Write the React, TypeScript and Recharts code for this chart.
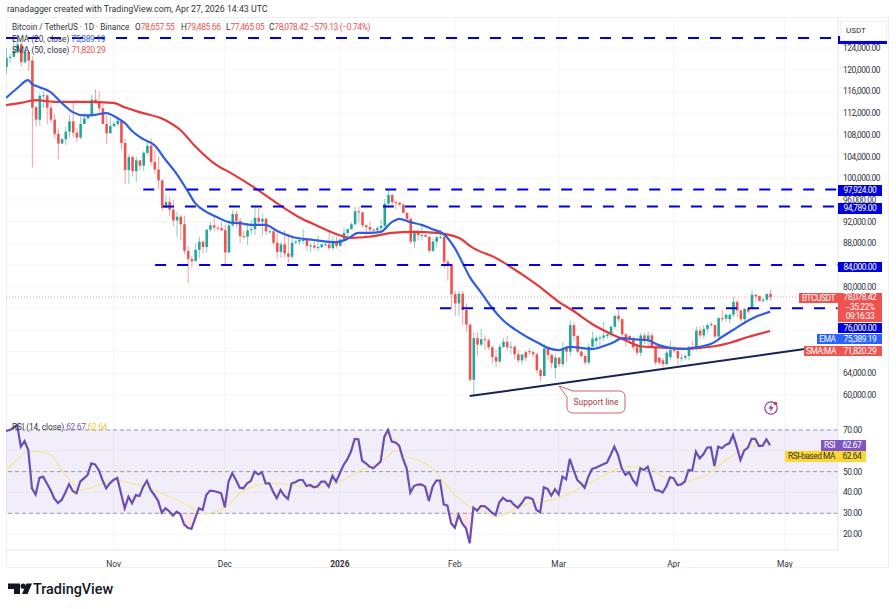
import {
  Area,
  Bar,
  CartesianGrid,
  ComposedChart,
  Line,
  ReferenceArea,
  ReferenceLine,
  XAxis,
  YAxis,
} from "recharts";

// prices in thousands of USDT, one entry per day, Oct 3 2025 to Apr 27 2026
const FIRST_DAY = -29; // day 0 is Nov 1

const opens = [
  120.5,122.2,122.4,123.5,124.7,121.4,123.3,121.7,113.1,110.8,115.2,115.3,113,110.8,108.2,106.4,107.2,108.6,110.5,108.4,107.5,110,111,111.6,114.5,114.1,112.9,110,108.3,
  109.6,110,110.6,106.5,101.5,103.9,101.3,103.3,102.3,104.7,106,103,101.6,99.6,94.5,95.6,94.2,92.2,92.9,91.5,86.6,85.1,84.7,86.8,88.3,87.3,90.5,91.3,90.9,90.8,
  90.4,86.3,91.3,93.4,92.1,89.3,89.2,90.4,90.6,92.7,92,92.5,90.2,90.2,88.1,86.4,87.8,86.1,85.5,88.1,88.3,88.6,88.6,87.5,87.6,87.2,87.3,87.8,87.8,87.1,88.4,
  87.5,88.7,89.9,90.6,91.5,93.9,93.7,91.3,91,90.5,90.4,90.8,91.2,95.3,96.9,95.6,95.5,95.1,93.6,92.5,88.3,90,89.5,89.5,89.2,86.6,88.3,89.1,89.2,84.6,84.1,
  78.6,76.9,78.7,75.7,73,62.8,70.5,69.3,70.3,70.1,68.8,67,66.2,68.9,69.8,68.8,68.9,67.5,66.4,67.9,68.1,67.9,67.5,64.6,63.5,68.6,67.4,65,
  66.9,65.7,68.6,68,72.9,70.9,68,67.2,66,68.9,70,70.5,70.6,70.9,71.2,72.6,74.6,74,71.2,70.9,70.2,68.8,67.8,71,70,71,68.9,66.9,66.4,65.7,67,
  68.3,68.1,66.8,66.9,67.2,68.9,68.6,71.9,71,72.2,72.9,72.9,70.8,74.2,74.1,74,74.8,77.2,75.6,74,76,75.9,78.5,78.3,77.4,77.6,78.66,
];
const highs = [
  123.9,122.9,125.7,126.2,125.1,124.2,123.7,122.5,113.4,115.8,116,115.5,113.6,111.9,109.2,107.5,109.5,111.7,114,109.2,111.3,112,111.9,115.4,116.4,116,113.6,111.6,111.2,
  110.5,111.2,110.7,107.3,104.5,104.2,104,103.4,105,106.7,107.4,105.3,104,99.8,96.8,96.6,96,93.8,93.2,93,87.5,85.6,88,89.2,88.5,90.6,91.9,93,91.2,92,
  91.4,92.3,94.1,94,92.7,90.3,91.8,92.3,94.6,94.5,93.5,92.8,90.6,90.5,90,88.2,90.4,89.5,89.4,88.6,89.1,90.6,88.9,88,88.5,89.5,87.9,88.2,90.4,89.3,89.2,
  88.8,90.9,90.7,91.8,94.7,94.8,93.7,91.5,91.9,90.8,91.2,92.4,96.2,97.9,97.2,95.8,95.6,95.5,93.6,92.8,90.4,90.5,91.2,89.8,89.2,88.9,89.4,90.5,89.2,85,84.2,
  79.2,79.3,79.2,76.9,73.2,71.5,71.6,72.2,71,70.5,69.2,68.3,69.4,70.5,70.9,69.9,69.2,68.3,67.3,68.2,68.6,68.2,67.7,65,69.5,68.9,67.7,67.4,
  67,69.8,69,73.8,73.4,71.1,68.6,67.5,69.5,71.7,71,71,73.5,71.3,72.9,74.8,75.7,74.1,71.4,71,70.8,69.5,71.5,71.4,71.7,71.4,69,67,66.8,68.3,70,
  69.2,68.8,67.4,67.4,69,70,72.6,72.6,72.9,73.2,73.5,73,74.4,75.7,75.1,75,78.1,77.4,75.7,76,76,79.4,78.6,78.3,77.9,78.7,79.49,
];
const lows = [
  119.3,121.3,122.2,123.1,120.6,121.1,119.8,102,109.6,109.6,113,110,110.2,107.5,103.5,106.3,106.1,107.5,107.5,106.7,107.2,109.9,110.9,111.3,113.8,112,109.9,106.3,108.2,
  109.5,109.7,105.3,98.9,98.9,100.3,99.3,101.4,101.3,104.3,102.5,100.8,98,94,94.5,93,91.2,89.2,88.6,86,80.6,83.5,84.7,85.3,86.1,86.3,90.1,90.2,90.2,90.3,
  83.8,86.2,91,90.9,88.1,88.9,87.7,89.6,89.5,91.6,89.3,89.5,89.8,87.6,85.2,85.3,85.3,84.4,85.1,87.9,87.6,87.9,86.6,86.4,86.9,86.6,87.1,87.4,86.7,86.8,87,
  87.4,88.3,89.3,90.5,91.4,91.8,90.9,89.2,89.6,90.3,90.2,90,90.9,94.5,95,94.2,94.9,93.6,91.9,87.9,87.2,88.5,88.5,89.1,86.2,86.4,87.2,88.8,83.3,81.1,75.8,
  74.6,74.5,72.9,71.7,62.4,60,67.3,68.9,68.3,68.3,65.8,65.1,65.8,68.7,68.1,67.5,66.6,65.9,65.6,66.2,67.4,67,64,62.5,63.5,66.5,64.9,63,
  65.2,65.2,66.1,67.1,70,67.7,67,65.6,65.6,68.9,68.9,69.2,70,70.4,70.5,72.2,73.5,70.6,68.9,69.5,68.2,67.3,67.2,69.4,68.6,68.6,65.5,65.5,65,65.5,66.4,
  67.8,65.5,66.2,66.4,66.4,68.2,68.2,70.4,70.4,71.4,72.5,70.4,70.4,73.5,73.5,73.2,74.4,74.4,73.5,73.5,75,75.9,77.2,77.2,77,77.2,77.47,
];
const closes = [
  122.2,122.4,123.5,124.7,121.4,123.3,121.7,113,110.8,115.2,115.3,113,110.8,108.2,106.4,107.2,108.6,110.5,108.4,107.5,110,111,111.6,114.5,114.1,112.9,110,108.3,109.6,
  110,110.6,106.5,101.5,103.9,101.3,103.3,102.3,104.7,106,103,101.6,99.6,94.5,95.6,94.2,92.2,92.9,91.5,86.6,85.1,84.7,86.8,88.3,87.3,90.5,91.3,90.9,90.8,90.4,
  86.3,91.3,93.4,92.1,89.3,89.2,90.4,90.6,92.7,92,92.5,90.2,90.2,88.1,86.4,87.8,86.1,85.5,88.1,88.3,88.6,88.6,87.5,87.6,87.2,87.3,87.8,87.8,87.1,88.4,87.5,
  88.7,89.9,90.6,91.5,93.9,93.7,91.3,91,90.5,90.4,90.8,91.2,95.3,96.9,95.6,95.5,95.1,93.6,92.5,88.3,90,89.5,89.5,89.2,86.6,88.3,89.1,89.2,84.6,84.1,78.6,
  76.9,78.7,75.7,73,62.8,70.5,69.3,70.3,70.1,68.8,67,66.2,68.9,69.8,68.8,68.9,67.5,66.4,67.5,66.9,67.9,67.5,64.6,63.5,68.6,67.4,65.9,66.9,
  65.7,68.6,68,72.9,70.9,68,67.2,66,68.9,70.4,70.5,70.6,71,71.2,72.6,74.6,74,71.2,69.9,70.2,68.8,67.8,71,70,71,68.9,66,66,65.7,67.8,68.3,
  68.1,66.8,66.9,67.2,68.9,68.6,71.9,71,72.2,72.9,73.1,70.8,74.2,74.1,74.8,74.8,77.2,75.6,74,75.9,75.4,78.5,78.2,77.4,77.6,78.66,78.08,
];
const rsiValues = [
  69.5,70,71,72.4,62,64.7,60.4,42,39,47,47.6,44.4,41.2,37.2,35,36.4,40,44,40.7,39.6,45.2,46.8,48.4,54,53.5,50.8,46,42,44.4,
  46,47,39.6,32.4,38,34.8,38.8,38.3,42.8,45.7,41.2,38.8,36,30.3,32.4,31,28.9,30.8,29.7,24.7,23.1,22.5,27.6,32.4,31.6,38.8,40.9,40.7,40.2,39.6,
  32.9,45.2,49.2,46,42.3,42,44.4,45.5,50,48.7,49.7,44.4,44.4,40.4,37.2,41.2,38.5,36.9,44.4,44.9,46,46,43.1,43.6,42.5,43,45.2,45.2,42.8,48,45.2,
  49.2,53.2,55.9,59.6,65.7,65.5,55.3,54,52.4,51.6,53.2,54.8,66.8,70,64.4,64,62.5,56.4,51.6,39.9,43.1,43.8,43.9,42.8,35.9,42.8,45.7,45.7,34.3,33.7,25.2,
  23.1,29.2,25.2,22.8,15.6,32.7,31.3,33.5,33.5,32,30.3,29.2,35.3,37.5,36,36,34,32.7,34.8,37.5,37.5,36.7,31.6,30.5,42.5,41.7,38.5,41.5,
  39.1,47.6,46.3,56.1,50.8,46,44.4,42.3,47.6,51.3,51.9,52.7,53.5,54.3,58,62,58,51.6,48.4,49.7,46,43.6,51.6,50.8,52.4,46.8,41.2,40.9,40,42.8,47.3,
  46.8,43.6,43.9,45.2,50.8,50.5,59.6,56.4,58.3,61.5,61.7,52.7,62,61.2,62.8,63.6,67.6,62,55.6,60.1,61.5,65.7,65.7,62.3,62.5,65.5,62.67,
];

// the smooth averages, read at intervals
const emaDays = [-29,-26,-23,-22,-20,-17,-14,-11,-8,-5,-2,1,3,5,8,11,14,17,20,22,25,28,31,34,37,41,44,48,54,60,63,66,69,72,75,77,80,83,86,89,92,94,96,99,102,105,108,111,114,117,120,123,126,129,132,135,137,140,144,147,150,154,158,161,164,167,170,173,175,177];
const emaValues = [114.8,116.6,118.1,117.4,116.8,115.9,113.9,112.2,111.6,111.7,112,111.1,110.2,108.7,107.2,106.1,103.4,100.8,97.6,95.4,93.8,92.8,91.9,91.7,91.4,91.4,90.3,89.2,88.6,88.2,88.8,89.9,89.9,90.1,91.9,92.5,91.9,91.4,90.6,89.7,87.1,84.5,81.8,79,76.1,73.8,72.2,70.9,69.8,68.7,68.3,68.9,68.7,68.5,69,69.8,70.5,70.3,70.1,69.2,68.7,68.5,68.9,69.4,70.7,72,73.3,74.4,74.9,75.39];
const smaDays = [-29,-25,-21,-16,-8,0,3,7,14,18,22,27,32,39,44,50,55,60,64,69,75,81,87,93,97,103,110,115,120,124,129,134,138,142,147,154,158,162,166,171,177];
const smaValues = [113.5,113.9,114.4,114.1,114.1,113.9,113.1,112.2,110.7,108.9,105.9,102.8,100.8,97.8,95.4,92.8,91.2,89.7,89,89.2,89.9,90.1,89.9,89,87.1,85.3,82.3,79.9,77.2,75.5,73.1,71.3,70.1,69,68.8,68.5,68.7,69,69.6,70.7,71.82];
const rsiMaDays = [-29,-26,-23,-20,-17,-14,-11,-9,-4,0,5,9,14,18,22,24,30,34,39,43,49,55,61,66,70,74,76,79,83,86,89,92,96,100,103,108,112,117,121,126,130,135,139,144,148,153,159,164,169,173,177];
const rsiMaValues = [50.8,55.6,59.6,59.6,58,50.8,44.4,41.2,43.6,46,44.4,42.8,38.8,35.6,31.6,29.7,32.7,39.6,43.6,44.4,43.3,42.3,45.2,50,53.2,57.2,60.4,57.2,54.8,51.6,45.2,38.8,33.2,30.8,28.4,31.6,34.8,35.9,38,42.3,46,50.8,52.4,52.4,47.6,45.2,47.6,54,60,62.3,62.64];

// grid runs every 4k, labels skip the ones hidden behind the axis tags
const priceGrid = [60,64,68,72,76,80,84,88,92,96,100,104,108,112,116,120,124];
const priceTicks = [60,64,80,88,92,96,100,104,108,112,116,120,124];
const rsiGrid = [20,30,40,50,60,70];
const rsiTicks = [20,30,40,50,70];
const monthDays = [0,30,61,92,120,151,181];
const monthLabels = ["Nov","Dec","2026","Feb","Mar","Apr","May"];

// horizontal levels drawn on the chart, and the day each one starts
const levelPrices = [125.87,97.924,94.789,84,76];
const levelStarts = [-29,8,13.3,11.2,88];
const supportDays = [96,186.3];
const supportPrices = [59.8,68.5];
const lastPrice = 78.078;

const UP = "#26a69a";
const DOWN = "#ef5350";
const BLUE = "#0000dd";
const FONT = "Roboto, sans-serif";
const TEXT = "#30333d";
const AXIS_TICK = { fontSize: 8.4, fill: TEXT, fontFamily: FONT, letterSpacing: -0.45 };
const X_DOMAIN: [number, number] = [-29, 195.3];

const emaByDay = new Map(emaDays.map((d, i) => [d, emaValues[i]]));
const smaByDay = new Map(smaDays.map((d, i) => [d, smaValues[i]]));
const rsiMaByDay = new Map(rsiMaDays.map((d, i) => [d, rsiMaValues[i]]));

const rows = opens.map((open, i) => {
  const day = FIRST_DAY + i;
  return {
    day,
    open: open * 1000,
    high: highs[i] * 1000,
    low: lows[i] * 1000,
    close: closes[i] * 1000,
    ema: emaByDay.has(day) ? emaByDay.get(day)! * 1000 : null,
    sma: smaByDay.has(day) ? smaByDay.get(day)! * 1000 : null,
    rsi: rsiValues[i],
    rsiMa: rsiMaByDay.has(day) ? rsiMaByDay.get(day)! : null,
  };
});

function Candle(props: any) {
  const { x, y, width, height, payload } = props;
  const { open, high, low, close } = payload;
  const perUnit = height / (high - low || 1);
  const bodyTop = y + (high - Math.max(open, close)) * perUnit;
  const bodyH = Math.max(Math.abs(open - close) * perUnit, 1);
  const color = close >= open ? UP : DOWN;
  const cx = x + width / 2;
  return (
    <g>
      <line x1={cx} x2={cx} y1={y} y2={y + height} stroke={color} strokeOpacity={0.55} strokeWidth={1} />
      <rect x={x} y={bodyTop} width={width} height={bodyH} fill={color} />
    </g>
  );
}

function MonthTick(props: any) {
  const { x, y, payload } = props;
  const label = monthLabels[monthDays.indexOf(payload.value)];
  return (
    <text x={x} y={y + 9} textAnchor="middle" fontFamily={FONT} fontSize={8.4} fill={TEXT} fontWeight={label === "2026" ? 700 : 400}>
      {label}
    </text>
  );
}

function Tag(props: { left: number; top: number; width: number; height: number; bg: string; color?: string; children: any }) {
  const { left, top, width, height, bg, color = "#fff", children } = props;
  return (
    <div
      style={{
        position: "absolute", left, top, width, height, background: bg, color, fontSize: 8.4, letterSpacing: -0.45,
        lineHeight: `${height}px`, textAlign: "center", whiteSpace: "nowrap", overflow: "hidden",
      }}
    >
      {children}
    </div>
  );
}

function Label(props: { left: number; top: number; children: any; size?: number; color?: string }) {
  const { left, top, children, size = 8.2, color = TEXT } = props;
  return (
    <div style={{ position: "absolute", left, top, fontSize: size, color, lineHeight: "11px", whiteSpace: "pre" }}>
      {children}
    </div>
  );
}

function Num(props: { color: string; children: any }) {
  return <span style={{ color: props.color, fontSize: 8.5, letterSpacing: -0.4 }}>{props.children}</span>;
}

export default function App() {
  return (
    <div style={{ position: "absolute", left: 0, top: 0, width: 896, height: 609, background: "#fff", fontFamily: FONT, overflow: "hidden" }}>
      {/* pane frame */}
      <div style={{ position: "absolute", left: 6, top: 17, width: 883, height: 551, border: "1px solid #eff0f3", boxSizing: "border-box" }} />

      <div style={{ position: "absolute", left: 0, top: 0 }}>
        <ComposedChart width={896} height={416} data={rows} margin={{ top: 18, right: 7, bottom: 0, left: 6 }}>
          <CartesianGrid stroke="#f4f5f7" verticalValues={monthDays} horizontalValues={priceGrid.map((t) => t * 1000)} />
          <XAxis dataKey="day" type="number" domain={X_DOMAIN} hide allowDataOverflow />
          <YAxis
            orientation="right"
            width={51}
            domain={[56130, 129560]}
            ticks={priceTicks.map((t) => t * 1000)}
            interval={0}
            allowDataOverflow
            tickLine={false}
            axisLine={{ stroke: "#e4e5ea" }}
            tickSize={0}
            tickMargin={5}
            tick={AXIS_TICK}
            tickFormatter={(v: number) => v.toLocaleString("en-US", { minimumFractionDigits: 2 })}
          />
          <ReferenceLine y={lastPrice * 1000} stroke="#ef5350" strokeOpacity={0.6} strokeDasharray="1 2" />
          <Bar dataKey={(r: any) => [r.low, r.high]} barSize={2.6} shape={Candle} isAnimationActive={false} />
          <Line dataKey="sma" type="monotone" connectNulls stroke="#e5383b" strokeWidth={2.2} dot={false} isAnimationActive={false} />
          <Line dataKey="ema" type="monotone" connectNulls stroke="#2f5fe0" strokeWidth={2.2} dot={false} isAnimationActive={false} />
          {levelPrices.map((p, i) => (
            <ReferenceLine
              key={p}
              segment={[{ x: levelStarts[i], y: p * 1000 }, { x: X_DOMAIN[1], y: p * 1000 }]}
              stroke={BLUE}
              strokeWidth={2}
              strokeDasharray="11 11"
            />
          ))}
          <ReferenceLine
            segment={[{ x: supportDays[0], y: supportPrices[0] * 1000 }, { x: supportDays[1], y: supportPrices[1] * 1000 }]}
            stroke="#16235a"
            strokeWidth={2}
          />
        </ComposedChart>
      </div>

      <div style={{ position: "absolute", left: 0, top: 416 }}>
        <ComposedChart width={896} height={152} data={rows} margin={{ top: 0, right: 7, bottom: 0, left: 6 }}>
          <CartesianGrid stroke="#f4f5f7" verticalValues={monthDays} horizontalValues={rsiGrid} />
          <ReferenceArea y1={30} y2={70} fill="#7e57c2" fillOpacity={0.1} stroke="none" />
          <XAxis
            dataKey="day"
            type="number"
            domain={X_DOMAIN}
            ticks={monthDays}
            interval={0}
            height={18}
            allowDataOverflow
            tickLine={false}
            axisLine={{ stroke: "#e4e5ea" }}
            tick={MonthTick}
          />
          <YAxis
            orientation="right"
            width={51}
            domain={[12.4, 76.7]}
            ticks={rsiTicks}
            interval={0}
            allowDataOverflow
            tickLine={false}
            axisLine={{ stroke: "#e4e5ea" }}
            tickSize={0}
            tickMargin={5}
            tick={AXIS_TICK}
            tickFormatter={(v: number) => v.toFixed(2)}
          />
          {[70, 50, 30].map((level) => (
            <ReferenceLine key={level} y={level} stroke="#9a9da6" strokeDasharray="4 3" />
          ))}
          <Area
            dataKey={(r: any) => [Math.min(r.rsi, 30), 30]}
            type="linear"
            stroke="none"
            fill="#f23645"
            fillOpacity={0.12}
            dot={false}
            isAnimationActive={false}
          />
          <Line dataKey="rsiMa" type="monotone" connectNulls stroke="#f5e6a6" strokeWidth={1.4} dot={false} isAnimationActive={false} />
          <Line dataKey="rsi" type="linear" stroke="#6a4fb5" strokeWidth={2.2} dot={false} isAnimationActive={false} />
        </ComposedChart>
      </div>

      {/* header and legends */}
      <Label left={7} top={4} size={8.8}>ranadagger created with TradingView.com, Apr 27, 2026 14:43 UTC</Label>
      <Label left={12} top={22}>Bitcoin / TetherUS · 1D · Binance</Label>
      <Label left={135} top={22}>O<Num color={DOWN}>78,657.55</Num></Label>
      <Label left={181} top={22}>H<Num color={DOWN}>79,485.66</Num></Label>
      <Label left={226} top={22}>L<Num color={DOWN}>77,465.05</Num></Label>
      <Label left={269} top={22}>C<Num color={DOWN}>78,078.42 −579.13 (−0.74%)</Num></Label>
      <Label left={12} top={34}>EMA (20, close) <Num color="#2f5fe0">75,389.19</Num></Label>
      <Label left={12} top={45}>SMA (50, close) <Num color={DOWN}>71,820.29</Num></Label>
      <Label left={12} top={422}>RSI (14, close) <Num color="#7e57c2">62.67</Num> <Num color="#e9c94a">62.64</Num></Label>

      {/* price axis tags */}
      <Tag left={838} top={36} width={49} height={8} bg={BLUE}>{" "}</Tag>
      <div style={{ position: "absolute", left: 840, top: 21, width: 47, height: 20, background: "#fff", border: "1px solid #f0f1f4", boxSizing: "border-box", fontSize: 8, color: TEXT, lineHeight: "18px", paddingLeft: 5 }}>USDT</div>
      <Tag left={838} top={185} width={44} height={11} bg={BLUE}>97,924.00</Tag>
      <Tag left={838} top={203} width={44} height={11} bg={BLUE}>94,789.00</Tag>
      <Tag left={838} top={262} width={44} height={10} bg={BLUE}>84,000.00</Tag>
      <Tag left={799} top={293} width={39} height={10} bg={DOWN}>BTCUSDT</Tag>
      <div style={{ position: "absolute", left: 838, top: 293, width: 44, height: 29, background: DOWN, color: "#fff", fontSize: 8.4, letterSpacing: -0.45, lineHeight: "9.5px", textAlign: "center" }}>
        78,078.42<br />−35.22%<br />09:16:33
      </div>
      <Tag left={838} top={323} width={44} height={10} bg={BLUE}>76,000.00</Tag>
      <Tag left={817} top={334} width={21} height={10} bg="#2962ff">EMA</Tag>
      <Tag left={838} top={334} width={44} height={10} bg="#2962ff">75,389.19</Tag>
      <Tag left={804} top={346} width={34} height={10} bg={DOWN}>SMA:MA</Tag>
      <Tag left={838} top={346} width={44} height={10} bg={DOWN}>71,820.29</Tag>
      <Tag left={821} top={440} width={17} height={11} bg="#7e57c2">RSI</Tag>
      <Tag left={838} top={440} width={28} height={11} bg="#7e57c2">62.67</Tag>
      <Tag left={785} top={451} width={53} height={11} bg="#fdd835" color="#33322a">RSI-based MA</Tag>
      <Tag left={838} top={451} width={28} height={11} bg="#fdd835" color="#33322a">62.64</Tag>

      {/* callout, lightning badge, logo */}
      <svg width={896} height={609} style={{ position: "absolute", left: 0, top: 0, pointerEvents: "none" }}>
        <path d="M559 386 L573 391 L619 391 Q625 391 625 397 L625 407 Q625 413 619 413 L573 413 Q567 413 567 407 L567 397 Z" fill="#fff" stroke="#c9686a" strokeWidth={1} />
        <text x={596} y={405} textAnchor="middle" fontFamily={FONT} fontSize={8.4} fill="#a8383c">Support line</text>
        <circle cx={771} cy={408} r={6.2} fill="#fff" stroke="#8e3fa8" strokeWidth={1.2} />
        <path d="M772 403.5 L768.5 408.8 L771 408.8 L770 412.5 L773.6 407 L771.2 407 Z" fill="#8e3fa8" />
        <circle cx={775.5} cy={403.5} r={1.8} fill="#e53935" />
        <path d="M8 583.5 H20 V594 H14 V589 H8 Z" fill="#131722" />
        <circle cx={23.2} cy={586.2} r={2.6} fill="#131722" />
        <path d="M22 594 L26.5 583.5 H32 L27.5 594 Z" fill="#131722" />
        <text x={33} y={594} fontFamily={FONT} fontSize={14.4} fontWeight={500} fill="#131722">TradingView</text>
      </svg>
    </div>
  );
}
